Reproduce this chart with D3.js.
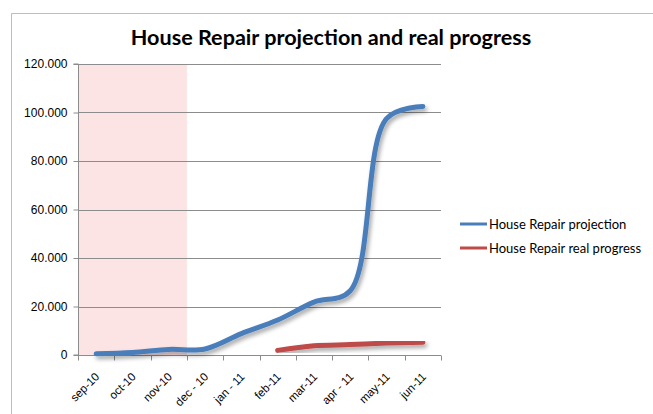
<!DOCTYPE html>
<html>
<head>
<meta charset="utf-8">
<script src="https://cdn.jsdelivr.net/npm/d3@7"></script>
<style>
  body { margin: 0; background: #fff; }
  svg { display: block; font-family: "Lato", "Open Sans", sans-serif; }
</style>
</head>
<body>
<div id="chart"></div>
<script>
// chart data
var months = ["sep-10", "oct-10", "nov-10", "dec - 10", "jan - 11", "feb-11", "mar-11", "apr - 11", "may-11", "jun-11"];
var projection = [500, 1000, 2300, 2500, 8800, 14400, 21800, 26500, 97500, 102500];
var realProgress = [null, null, null, null, null, 1900, 3800, 4300, 4900, 5300];
var yTicks = [0, 20000, 40000, 60000, 80000, 100000, 120000];
var shadedMonths = ["sep-10", "oct-10", "nov-10"];
var seriesNames = ["House Repair projection", "House Repair real progress"];
var seriesColors = ["#4a7ebb", "#be4b48"];

var w = 653, h = 414;
var margin = {left: 78, right: 212, top: 64, bottom: 59};

var svg = d3.select("#chart").append("svg")
    .attr("width", w)
    .attr("height", h);

// drop shadow like excel
var defs = svg.append("defs");
var f = defs.append("filter").attr("id", "shadow")
    .attr("x", "-10%").attr("y", "-10%").attr("width", "130%").attr("height", "130%");
f.append("feDropShadow")
    .attr("dx", 2).attr("dy", 3).attr("stdDeviation", 2)
    .attr("flood-color", "#000").attr("flood-opacity", 0.35);

// outer frame
svg.append("path")
    .attr("d", "M11.5," + h + "V13.5H" + w)
    .attr("fill", "none")
    .attr("stroke", "#bdbdbd")
    .attr("stroke-width", 1);

svg.append("text")
    .attr("x", 331)
    .attr("y", 45)
    .attr("text-anchor", "middle")
    .attr("font-weight", "bold")
    .attr("font-size", 21.6)
    .text("House Repair projection and real progress");

var x = d3.scaleBand()
    .domain(months)
    .range([margin.left, w - margin.right]);

var y = d3.scaleLinear()
    .domain([0, 120000])
    .range([h - margin.bottom, margin.top]);

var g = svg.append("g");

// pink band
g.append("rect")
    .attr("x", x(shadedMonths[0]))
    .attr("y", y(120000))
    .attr("width", x(shadedMonths[shadedMonths.length - 1]) + x.bandwidth() - x(shadedMonths[0]))
    .attr("height", y(0) - y(120000))
    .attr("fill", "#fde4e4");

// grid
g.selectAll(".grid")
    .data(yTicks.slice(1))
    .enter()
    .append("line")
    .attr("class", "grid")
    .attr("x1", margin.left)
    .attr("x2", w - margin.right)
    .attr("y1", function(d) { return Math.round(y(d)) + 0.5; })
    .attr("y2", function(d) { return Math.round(y(d)) + 0.5; })
    .attr("stroke", "#8c8c8c")
    .attr("stroke-width", 1);

// y axis
var yAxis = d3.axisLeft(y)
    .tickValues(yTicks)
    .tickSize(5)
    .tickPadding(6)
    .tickFormat(function(d) { return d == 0 ? "0" : d3.format(",")(d).replace(/,/g, "."); });

var ya = svg.append("g")
    .attr("transform", "translate(" + (margin.left + 0.5) + ",0)")
    .call(yAxis);
ya.select(".domain").attr("stroke", "#8c8c8c").attr("d", "M-5," + (y(120000)) + "H0V" + y(0) + "H-5");
ya.selectAll(".tick line").attr("stroke", "#8c8c8c");
ya.selectAll("text").attr("font-size", 12).attr("fill", "#000").attr("font-family", "Liberation Sans, sans-serif");

// x axis
var xAxis = d3.axisBottom(x).tickSize(0).tickPadding(0);
var xa = svg.append("g")
    .attr("transform", "translate(0," + (Math.round(y(0)) + 0.5) + ")")
    .call(xAxis);
xa.select(".domain").attr("stroke", "#8c8c8c").attr("d", "M" + margin.left + ",0H" + (w - margin.right));
xa.selectAll(".tick line").remove();
xa.selectAll(".tick text")
    .attr("font-size", 11.5)
    .attr("fill", "#000")
    .attr("font-family", "Liberation Sans, sans-serif")
    .attr("text-anchor", "end")
    .attr("dy", 0)
    .attr("transform", "translate(4,22) rotate(-45)");
// tick marks on band edges
xa.selectAll(".edge")
    .data(months.concat(["end"]))
    .enter()
    .append("line")
    .attr("x1", function(d, i) { return Math.round(margin.left + i * x.step()) + 0.5; })
    .attr("x2", function(d, i) { return Math.round(margin.left + i * x.step()) + 0.5; })
    .attr("y1", 0)
    .attr("y2", 5)
    .attr("stroke", "#8c8c8c");

var line = d3.line()
    .defined(function(d) { return d != null; })
    .x(function(d, i) { return x(months[i]) + x.bandwidth() / 2; })
    .y(function(d) { return y(d); })
    .curve(d3.curveCatmullRom);

var series = [projection, realProgress];
series.forEach(function(s, i) {
    svg.append("path")
        .datum(s)
        .attr("d", line)
        .attr("fill", "none")
        .attr("stroke", seriesColors[i])
        .attr("stroke-width", 5)
        .attr("stroke-linecap", "round")
        .attr("filter", "url(#shadow)");
});

// legend
var leg = svg.append("g");
seriesNames.forEach(function(name, i) {
    var ly = 224 + i * 24;
    leg.append("line")
        .attr("x1", 460).attr("x2", 487)
        .attr("y1", ly).attr("y2", ly)
        .attr("stroke", seriesColors[i])
        .attr("stroke-width", 3);
    leg.append("text")
        .attr("x", 489)
        .attr("y", ly + 4.5)
        .attr("font-size", 13)
        .text(name);
});
</script>
</body>
</html>
